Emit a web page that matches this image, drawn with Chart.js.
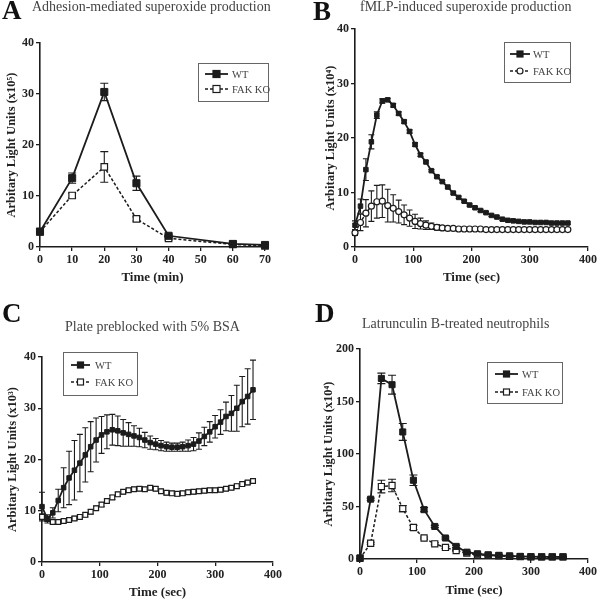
<!DOCTYPE html>
<html>
<head>
<meta charset="utf-8">
<script src="https://cdn.jsdelivr.net/npm/chart.js"></script>
<style>
  body { margin: 0; background: #fff; }
  #wrap { position: relative; width: 599px; height: 600px; font-family: "Liberation Serif", "Times New Roman", serif; }
  canvas { position: absolute; }
  .letter { position: absolute; font-size: 27px; font-weight: bold; line-height: 1; color: #111; }
  .ttl { position: absolute; font-size: 14px; line-height: 1; color: #444; white-space: nowrap; }
</style>
</head>
<body>
<div id="wrap">
  <canvas id="cA" width="300" height="300" style="left:0;top:0"></canvas>
  <canvas id="cB" width="299" height="300" style="left:300px;top:0"></canvas>
  <canvas id="cC" width="300" height="300" style="left:0;top:300px"></canvas>
  <canvas id="cD" width="299" height="300" style="left:300px;top:300px"></canvas>
  <div class="letter" style="left:2px;top:-3px">A</div>
  <div class="letter" style="left:313px;top:-2px">B</div>
  <div class="letter" style="left:2px;top:300px">C</div>
  <div class="letter" style="left:315px;top:300px">D</div>
  <div class="ttl" style="left:32px;top:0px">Adhesion-mediated superoxide production</div>
  <div class="ttl" style="left:360px;top:0px">fMLP-induced superoxide production</div>
  <div class="ttl" style="left:65px;top:320px">Plate preblocked with 5% BSA</div>
  <div class="ttl" style="left:362px;top:317px">Latrunculin B-treated neutrophils</div>
</div>

<script>
  // panel A - adhesion (min)
  const timeA  = [0, 10, 20, 30, 40, 60, 70];
  const wtA    = [3.0, 13.5, 30.4, 12.5, 2.2, 0.6, 0.4];
  const wtAErr = [0.3, 1.0, 1.7, 1.4, 0.3, 0.2, 0.2];
  const koA    = [3.0, 10.1, 15.7, 5.5, 1.7, 0.5, 0.2];
  const koAErr = [0.2, 0.5, 3.0, 0.4, 0.3, 0.1, 0.1];

  // panels B and C share the same read times (sec)
  const timeBC = [0, 9.4, 18.7, 28.1, 37.5, 46.9, 56.2, 65.6, 75, 84.3,
    93.7, 103.1, 112.4, 121.8, 131.2, 140.6, 149.9, 159.3, 168.7, 178,
    187.4, 196.8, 206.1, 215.5, 224.9, 234.3, 243.6, 253, 262.4, 271.7,
    281.1, 290.5, 299.8, 309.2, 318.6, 328, 337.3, 346.7, 356.1, 365.4];

  // panel B - fMLP
  const wtB = [4.0, 7.5, 14.2, 19.3, 24.2, 26.8, 27.0, 26.0, 24.5, 23.0,
    21.2, 18.8, 16.9, 15.6, 14.0, 12.9, 12.0, 11.0, 9.9, 9.1,
    8.4, 7.7, 7.2, 6.7, 6.3, 5.8, 5.5, 5.1, 4.9, 4.8,
    4.7, 4.6, 4.6, 4.5, 4.5, 4.5, 4.4, 4.4, 4.4, 4.4];
  const wtBErr = [0.8, 1.3, 2.0, 1.3, 0.6, 0.4, 0.3, 0.3, 0.3, 0.3,
    0.3, 0.3, 0.3, 0.2, 0.2, 0.2, 0.2, 0.2, 0.2, 0.2,
    0.2, 0.2, 0.2, 0.2, 0.2, 0.2, 0.2, 0.2, 0.2, 0.2,
    0.2, 0.2, 0.2, 0.2, 0.2, 0.2, 0.2, 0.2, 0.2, 0.2];
  const koB = [2.6, 4.5, 6.2, 7.5, 8.3, 8.4, 7.6, 7.1, 6.5, 5.9,
    5.3, 4.7, 4.3, 4.0, 3.8, 3.6, 3.5, 3.4, 3.4, 3.3,
    3.3, 3.3, 3.3, 3.3, 3.2, 3.2, 3.2, 3.2, 3.2, 3.2,
    3.2, 3.2, 3.2, 3.2, 3.2, 3.2, 3.2, 3.2, 3.2, 3.2];
  const koBErr = [0.5, 1.5, 2.5, 2.8, 3.0, 3.0, 3.0, 2.5, 2.1, 1.8,
    1.5, 1.3, 1.0, 0.8, 0.6, 0.5, 0.4, 0.3, 0.3, 0.3,
    0.2, 0.2, 0.2, 0.2, 0.2, 0.2, 0.2, 0.2, 0.2, 0.2,
    0.2, 0.2, 0.2, 0.2, 0.2, 0.2, 0.2, 0.2, 0.2, 0.2];

  // panel C - BSA preblocked
  const wtC = [10.8, 8.4, 9.6, 12.0, 14.5, 16.4, 17.9, 19.3, 20.9, 22.5,
    23.8, 24.8, 25.4, 25.8, 25.6, 25.2, 24.9, 24.6, 24.3, 23.8,
    23.3, 23.0, 22.7, 22.5, 22.4, 22.4, 22.5, 22.7, 23.0, 23.6,
    24.5, 25.4, 26.4, 27.3, 28.4, 29.0, 30.0, 31.3, 32.3, 33.6];
  const wtCErr = [2.8, 0.8, 1.0, 2.2, 3.9, 5.2, 5.8, 5.6, 5.3, 4.9,
    4.3, 3.6, 3.3, 3.0, 2.9, 2.6, 2.3, 2.0, 1.8, 1.5,
    1.3, 1.1, 1.0, 0.9, 0.8, 0.8, 0.9, 1.1, 1.3, 1.6,
    1.8, 2.0, 2.2, 2.4, 2.8, 3.5, 4.5, 4.9, 5.4, 5.8];
  const koC = [8.8, 8.4, 7.8, 7.8, 8.0, 8.2, 8.5, 8.8, 9.2, 9.8,
    10.5, 11.2, 11.9, 12.6, 13.2, 13.7, 14.0, 14.2, 14.3, 14.2,
    14.5, 14.3, 13.8, 13.5, 13.4, 13.3, 13.4, 13.6, 13.7, 13.8,
    13.9, 14.0, 14.0, 14.1, 14.3, 14.5, 14.8, 15.2, 15.5, 15.8];
  const koCErr = [0.6, 0.4, 0.4, 0.4, 0.4, 0.4, 0.4, 0.4, 0.4, 0.4,
    0.4, 0.4, 0.4, 0.4, 0.4, 0.4, 0.4, 0.4, 0.4, 0.4,
    0.4, 0.4, 0.4, 0.4, 0.4, 0.4, 0.4, 0.4, 0.4, 0.4,
    0.4, 0.4, 0.4, 0.4, 0.4, 0.4, 0.4, 0.4, 0.4, 0.4];

  // panel D - latrunculin B
  const timeD = [0, 18.7, 37.5, 56.2, 75, 93.7, 112.4, 131.2, 149.9, 168.7,
    187.4, 206.1, 224.9, 243.6, 262.4, 281.1, 299.8, 318.6, 337.3, 356.1];
  const wtD    = [1, 57, 172, 166, 121, 75, 47, 31, 20, 12, 6.5, 5, 4, 3.5, 3, 2.5, 2.2, 2, 2, 2];
  const wtDErr = [0, 1, 5, 9, 8, 5, 2, 1, 1, 1, 0.5, 0.5, 0.5, 0.5, 0.5, 0.5, 0.5, 0.5, 0.5, 0.5];
  const koD    = [0.5, 15, 69, 70, 48, 30, 20, 14.5, 11, 8, 5.5, 4, 3.5, 3, 2.5, 2.2, 2, 2, 2, 2];
  const koDErr = [0, 1, 6, 6, 3, 2, 1, 1, 1, 0.5, 0.5, 0.5, 0.5, 0.5, 0.5, 0.5, 0.5, 0.5, 0.5, 0.5];

  const INK = '#1c1c1c';
  Chart.defaults.font.family = '"Liberation Serif", "Times New Roman", serif';
  Chart.defaults.color = '#222';

  function pts(xs, ys) { return xs.map((x, i) => ({ x: x, y: ys[i] })); }

  // vertical SEM bars, drawn under the markers
  const errorBars = {
    id: 'errorBars',
    beforeDatasetsDraw(chart) {
      const ctx = chart.ctx, sx = chart.scales.x, sy = chart.scales.y;
      chart.data.datasets.forEach(ds => {
        if (!ds.errors) return;
        ctx.save();
        ctx.strokeStyle = INK;
        ctx.lineWidth = 1.1;
        ds.data.forEach((p, i) => {
          const e = ds.errors[i];
          if (!e) return;
          const px = sx.getPixelForValue(p.x);
          const t = sy.getPixelForValue(p.y + e), b = sy.getPixelForValue(p.y - e);
          const c = ds.capWidth;
          ctx.beginPath();
          ctx.moveTo(px, t); ctx.lineTo(px, b);
          ctx.moveTo(px - c, t); ctx.lineTo(px + c, t);
          ctx.moveTo(px - c, b); ctx.lineTo(px + c, b);
          ctx.stroke();
        });
        ctx.restore();
      });
    }
  };

  // boxed legend like the GraphPad one
  const boxLegend = {
    id: 'boxLegend',
    afterDraw(chart, args, o) {
      const ctx = chart.ctx;
      ctx.save();
      ctx.strokeStyle = '#666';
      ctx.lineWidth = 1;
      ctx.strokeRect(o.x + 0.5, o.y + 0.5, o.w, o.h);
      chart.data.datasets.forEach((ds, i) => {
        const y = o.rows[i];
        ctx.strokeStyle = INK;
        ctx.lineWidth = ds.borderWidth;
        ctx.setLineDash(ds.borderDash || []);
        ctx.beginPath();
        ctx.moveTo(o.x1, y); ctx.lineTo(o.x2, y);
        ctx.stroke();
        ctx.setLineDash([]);
        const cx = (o.x1 + o.x2) / 2, s = o.size;
        ctx.fillStyle = ds.pointBackgroundColor;
        ctx.lineWidth = 1.2;
        if (ds.pointStyle === 'circle') {
          ctx.beginPath(); ctx.arc(cx, y, s / 2, 0, Math.PI * 2); ctx.fill(); ctx.stroke();
        } else {
          ctx.fillRect(cx - s / 2, y - s / 2, s, s);
          ctx.strokeRect(cx - s / 2, y - s / 2, s, s);
        }
        ctx.fillStyle = '#444';
        ctx.font = '10.5px "Liberation Serif", serif';
        ctx.textBaseline = 'middle';
        ctx.fillText(ds.label, o.tx, y + 1);
      });
      ctx.restore();
    }
  };

  function makeChart(id, p) {
    const datasets = [
      {
        label: 'WT', data: pts(p.t, p.wt), errors: p.wtErr, capWidth: p.cap,
        borderColor: INK, borderWidth: 1.8, pointStyle: 'rect',
        pointRadius: p.r, pointBackgroundColor: INK, pointBorderColor: INK,
        pointBorderWidth: 1, tension: 0, clip: false, order: 0
      },
      {
        label: 'FAK KO', data: pts(p.t, p.ko), errors: p.koErr, capWidth: p.cap,
        borderColor: INK, borderWidth: 1.5, borderDash: [3, 2], pointStyle: p.koStyle || 'rect',
        pointRadius: p.rKo, pointBackgroundColor: '#fff', pointBorderColor: INK,
        pointBorderWidth: 1.2, tension: 0, clip: false, order: 1
      }
    ];
    const axisGrid = { display: true, drawOnChartArea: false, drawTicks: true, tickLength: 4, color: INK, lineWidth: 1.3 };
    const axisBorder = { display: true, color: INK, width: 1.6 };
    return new Chart(document.getElementById(id), {
      type: 'line',
      data: { datasets: datasets },
      options: {
        responsive: false,
        animation: false,
        devicePixelRatio: 1,
        layout: { padding: p.pad },
        plugins: { legend: { display: false }, tooltip: { enabled: false }, boxLegend: p.legend },
        scales: {
          x: {
            type: 'linear', min: 0, max: p.xMax,
            ticks: { stepSize: p.xStep, font: { size: 12, weight: 'bold' }, padding: 2, maxRotation: 0 },
            grid: axisGrid, border: axisBorder,
            title: { display: true, text: p.xTitle, font: { size: 13, weight: 'bold' }, padding: 0, color: '#222' },
            afterFit: s => { s.height = p.xH; }
          },
          y: {
            min: 0, max: p.yMax,
            ticks: { stepSize: p.yStep, font: { size: 12, weight: 'bold' }, padding: 2 },
            grid: axisGrid, border: axisBorder,
            title: { display: true, text: p.yTitle, font: { size: 12.5, weight: 'bold' }, padding: 0, color: '#222' },
            afterFit: s => { s.width = p.yW; }
          }
        }
      },
      plugins: [errorBars, boxLegend]
    });
  }

  makeChart('cA', {
    t: timeA, wt: wtA, wtErr: wtAErr, ko: koA, koErr: koAErr,
    r: 5, rKo: 4.6, cap: 4,
    xMax: 70, xStep: 10, yMax: 40, yStep: 10,
    xTitle: 'Time (min)', yTitle: 'Arbitary Light Units (x10\u2075)',
    pad: { left: 4, right: 35, top: 43, bottom: 15 }, yW: 36, xH: 38,
    legend: { x: 198, y: 63, w: 70, h: 38, rows: [74, 89], x1: 205, x2: 228, tx: 232, size: 7 }
  });

  makeChart('cB', {
    t: timeBC, wt: wtB, wtErr: wtBErr, ko: koB, koErr: koBErr, koStyle: 'circle',
    r: 3.2, rKo: 3, cap: 3,
    xMax: 400, xStep: 100, yMax: 40, yStep: 10,
    xTitle: 'Time (sec)', yTitle: 'Arbitary Light Units (x10\u2074)',
    pad: { left: 23, right: 8, top: 29, bottom: 15 }, yW: 32, xH: 38,
    legend: { x: 204, y: 42, w: 66, h: 40, rows: [54, 71], x1: 210, x2: 230, tx: 233, size: 6 }
  });

  makeChart('cC', {
    t: timeBC, wt: wtC, wtErr: wtCErr, ko: koC, koErr: koCErr,
    r: 3.2, rKo: 3.4, cap: 3,
    xMax: 400, xStep: 100, yMax: 40, yStep: 10,
    xTitle: 'Time (sec)', yTitle: 'Arbitary Light Units (x10\u00b3)',
    pad: { left: 5, right: 27, top: 57, bottom: 0 }, yW: 37, xH: 38,
    legend: { x: 63, y: 52, w: 74, h: 43, rows: [65, 82], x1: 71, x2: 90, tx: 95, size: 6 }
  });

  makeChart('cD', {
    t: timeD, wt: wtD, wtErr: wtDErr, ko: koD, koErr: koDErr,
    r: 4.3, rKo: 4.3, cap: 4,
    xMax: 400, xStep: 100, yMax: 200, yStep: 50,
    xTitle: 'Time (sec)', yTitle: 'Arbitary Light Units (x10\u2074)',
    pad: { left: 21, right: 9, top: 49, bottom: 2 }, yW: 39, xH: 39,
    legend: { x: 187, y: 62, w: 75, h: 41, rows: [74, 92], x1: 195, x2: 218, tx: 222, size: 6 }
  });
</script>
</body>
</html>
